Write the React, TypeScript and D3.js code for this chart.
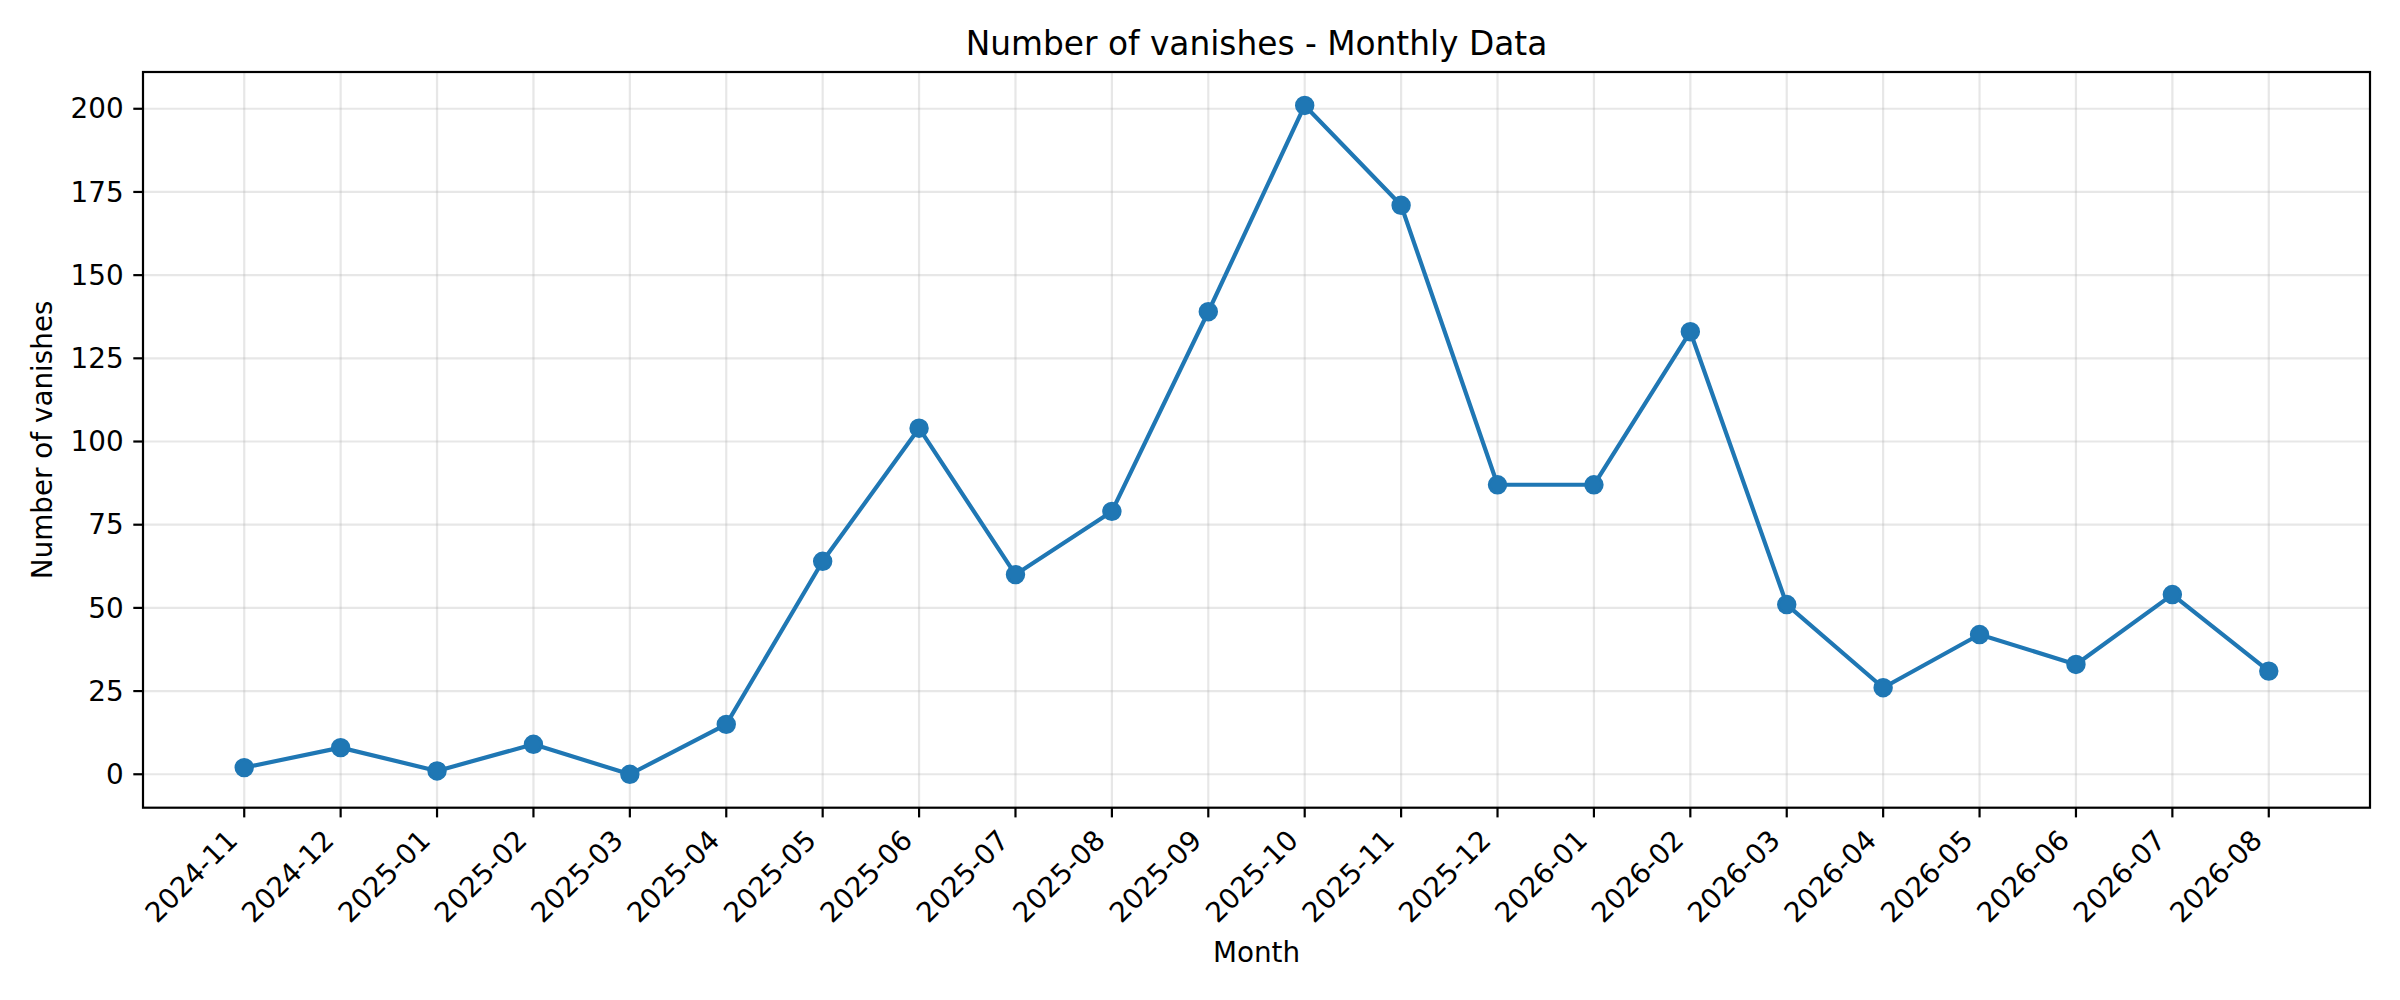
import React from "react";
import * as d3 from "d3";

const months = [
  "2024-11", "2024-12", "2025-01", "2025-02", "2025-03", "2025-04",
  "2025-05", "2025-06", "2025-07", "2025-08", "2025-09", "2025-10",
  "2025-11", "2025-12", "2026-01", "2026-02", "2026-03", "2026-04",
  "2026-05", "2026-06", "2026-07", "2026-08",
];
const vanishes = [2, 8, 1, 9, 0, 15, 64, 104, 60, 79, 139, 201, 171, 87, 87, 133, 51, 26, 42, 33, 54, 31];
const yTicks = [0, 25, 50, 75, 100, 125, 150, 175, 200];

const W = 2400;
const H = 1000;
const left = 143;
const right = 2370;
const top = 72;
const bottom = 807.7;
const FONT = "'DejaVu Sans', sans-serif";
const BLUE = "#1f77b4";

export default function App() {
  const n = months.length;
  const xm = (n - 1) * 0.05;
  const x = d3.scaleLinear().domain([-xm, n - 1 + xm]).range([left, right]);
  const ymax = d3.max(vanishes) as number;
  const ymin = d3.min(vanishes) as number;
  const ym = (ymax - ymin) * 0.05;
  const y = d3.scaleLinear().domain([ymin - ym, ymax + ym]).range([bottom, top]);

  const line = d3
    .line<number>()
    .x((_, i) => x(i))
    .y((d) => y(d));

  const tickLen = 9.7;
  const pad = 9.7;
  const fs = 27.8;

  return (
    <svg
      width={W}
      height={H}
      style={{ position: "absolute", left: 0, top: 0, background: "#fff" }}
      fontFamily={FONT}
    >
      <rect x={0} y={0} width={W} height={H} fill="#fff" />
      {/* grid */}
      <g stroke="#b0b0b0" strokeOpacity={0.3} strokeWidth={2.2}>
        {months.map((m, i) => (
          <line key={"gx" + m} x1={x(i)} x2={x(i)} y1={top} y2={bottom} />
        ))}
        {yTicks.map((t) => (
          <line key={"gy" + t} x1={left} x2={right} y1={y(t)} y2={y(t)} />
        ))}
      </g>
      {/* line + markers */}
      <path d={line(vanishes) || ""} fill="none" stroke={BLUE} strokeWidth={4.17} strokeLinejoin="round" strokeLinecap="square" />
      {vanishes.map((v, i) => (
        <circle key={"m" + i} cx={x(i)} cy={y(v)} r={8.33} fill={BLUE} stroke={BLUE} strokeWidth={2.78} />
      ))}
      {/* spines */}
      <rect x={left} y={top} width={right - left} height={bottom - top} fill="none" stroke="#000" strokeWidth={2.2} />
      {/* y ticks */}
      {yTicks.map((t) => (
        <g key={"yt" + t}>
          <line x1={left - tickLen} x2={left} y1={y(t)} y2={y(t)} stroke="#000" strokeWidth={2.2} />
          <text x={left - tickLen - pad} y={y(t)} dy="0.35em" textAnchor="end" fontSize={fs} fill="#000">
            {t}
          </text>
        </g>
      ))}
      {/* x ticks */}
      {months.map((m, i) => {
        const tx = x(i);
        const px = tx - 5;
        const py = bottom + tickLen + pad + 15;
        return (
          <g key={"xt" + m}>
            <line x1={tx} x2={tx} y1={bottom} y2={bottom + tickLen} stroke="#000" strokeWidth={2.2} />
            <text
              x={px}
              y={py}
              textAnchor="end"
              fontSize={fs}
              fill="#000"
              transform={`rotate(-45 ${px} ${py})`}
            >
              {m}
            </text>
          </g>
        );
      })}
      {/* labels */}
      <text x={(left + right) / 2} y={962} textAnchor="middle" fontSize={fs} fill="#000">
        Month
      </text>
      <text
        x={0}
        y={0}
        textAnchor="middle"
        fontSize={fs}
        fill="#000"
        transform={`translate(52 ${(top + bottom) / 2}) rotate(-90)`}
      >
        Number of vanishes
      </text>
      <text x={(left + right) / 2} y={55} textAnchor="middle" fontSize={32.8} fill="#000">
        Number of vanishes - Monthly Data
      </text>
    </svg>
  );
}
